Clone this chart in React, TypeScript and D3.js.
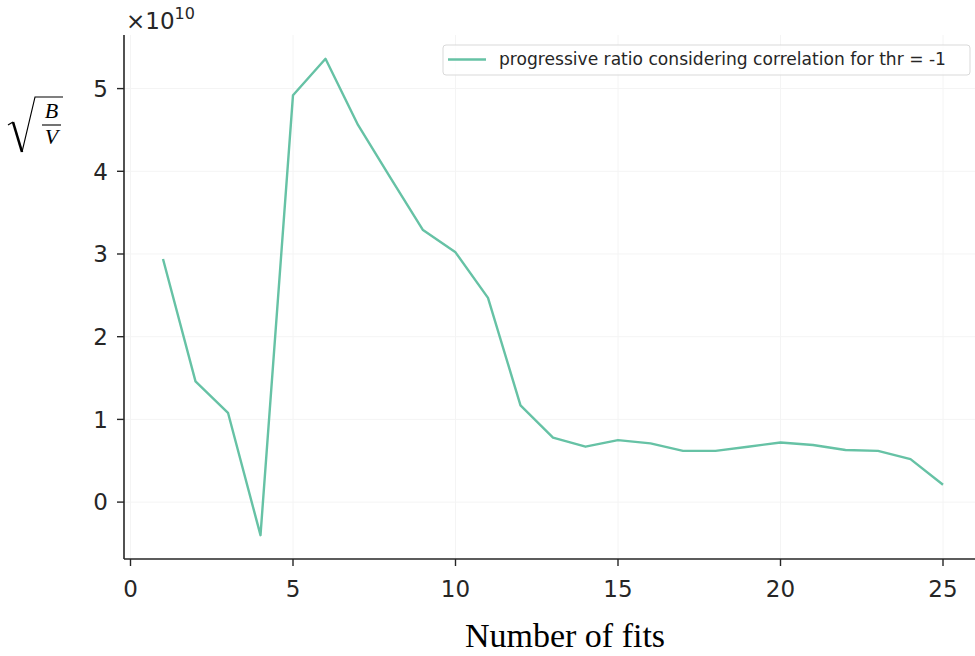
import React from 'react';
import { scaleLinear, line } from 'd3';

const fits = [1, 2, 3, 4, 5, 6, 7, 8, 9, 10, 11, 12, 13, 14, 15, 16, 17, 18, 19, 20, 21, 22, 23, 24, 25];
const ratio = [2.94, 1.46, 1.08, -0.40, 4.92, 5.36, 4.56, 3.92, 3.29, 3.02, 2.47, 1.17, 0.78, 0.67, 0.75, 0.71, 0.62, 0.62, 0.67, 0.72, 0.69, 0.63, 0.62, 0.52, 0.21];
const xTicks = [0, 5, 10, 15, 20, 25];
const yTicks = [0, 1, 2, 3, 4, 5];
const seriesLabel = 'progressive ratio considering correlation for thr = -1';

const W = 975;
const H = 656;
const left = 124;
const right = 982;
const top = 35;
const bottom = 559;

export default function App() {
  const x = scaleLinear().domain([-0.2, 26.2]).range([left, right]);
  const y = scaleLinear().domain([-0.688, 5.648]).range([bottom, top]);

  const points = fits.map((f, i) => [f, ratio[i]] as [number, number]);
  const path = line<[number, number]>()
    .x(d => x(d[0]))
    .y(d => y(d[1]))(points);

  const tickFont = { fontFamily: 'DejaVu Sans', fontSize: 23, fill: '#262626' };

  return (
    <svg width={W} height={H} style={{ position: 'absolute', left: 0, top: 0, background: '#fff' }}>
      {/* grid */}
      {xTicks.map(t => (
        <line key={'gx' + t} x1={x(t)} x2={x(t)} y1={top} y2={bottom} stroke="#f4f4f4" strokeWidth={1} />
      ))}
      {yTicks.map(t => (
        <line key={'gy' + t} x1={left} x2={W} y1={y(t)} y2={y(t)} stroke="#f4f4f4" strokeWidth={1} />
      ))}

      {/* series */}
      <path d={path || ''} fill="none" stroke="#66c2a5" strokeWidth={2.4} strokeLinejoin="round" />

      {/* spines */}
      <line x1={left} x2={left} y1={top} y2={bottom} stroke="#262626" strokeWidth={1.6} />
      <line x1={left} x2={W} y1={bottom} y2={bottom} stroke="#262626" strokeWidth={1.6} />

      {/* x axis */}
      {xTicks.map(t => (
        <g key={'xt' + t} transform={`translate(${x(t)},${bottom})`}>
          <line y1={0} y2={7} stroke="#262626" strokeWidth={1.4} />
          <text y={38} textAnchor="middle" {...tickFont}>{t}</text>
        </g>
      ))}

      {/* y axis */}
      {yTicks.map(t => (
        <g key={'yt' + t} transform={`translate(${left},${y(t)})`}>
          <line x1={0} x2={-7} stroke="#262626" strokeWidth={1.4} />
          <text x={-16} dy="0.36em" textAnchor="end" {...tickFont}>{t}</text>
        </g>
      ))}

      {/* offset text */}
      <text x={126} y={29} {...tickFont}>
        ×10<tspan dy={-10} fontSize={16}>10</tspan>
      </text>

      {/* y label: sqrt(B/V) */}
      <g fill="none" stroke="#000">
        <path d="M8,125 L13,122" strokeWidth={1.2} />
        <path d="M13,122 L22,152" strokeWidth={2.6} />
        <path d="M22,152 L35,97 L63,97" strokeWidth={1.1} />
        <line x1={42} x2={61} y1={125} y2={125} strokeWidth={1.1} />
      </g>
      <text x={51.5} y={118} textAnchor="middle" fontFamily="Liberation Serif" fontStyle="italic" fontSize={22}>B</text>
      <text x={51.5} y={144} textAnchor="middle" fontFamily="Liberation Serif" fontStyle="italic" fontSize={22}>V</text>

      {/* x label */}
      <text x={565} y={647} textAnchor="middle" fontFamily="Liberation Serif" fontSize={34} fill="#000">Number of fits</text>

      {/* legend */}
      <rect x={443} y={45} width={527} height={30} rx={3} fill="#fff" fillOpacity={0.8} stroke="#d9d9d9" strokeWidth={1} />
      <line x1={448} x2={486} y1={59.5} y2={59.5} stroke="#66c2a5" strokeWidth={2.4} />
      <text x={499} y={65} fontFamily="DejaVu Sans" fontSize={17.1} fill="#262626">{seriesLabel}</text>
    </svg>
  );
}
